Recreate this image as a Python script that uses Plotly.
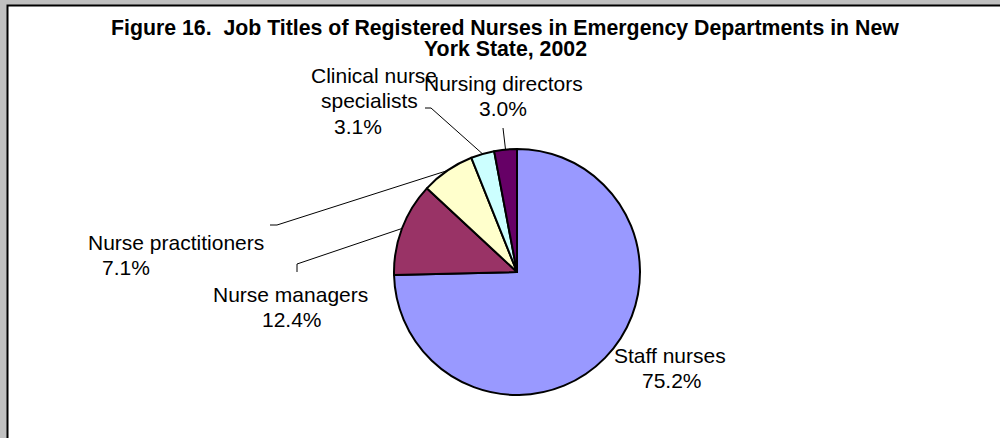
import math
import plotly.graph_objects as go

# ---- data ----
categories = ["Staff nurses", "Nurse managers", "Nurse practitioners",
              "Clinical nurse specialists", "Nursing directors"]
values = [75.2, 12.4, 7.1, 3.1, 3.0]
percent_texts = ["75.2%", "12.4%", "7.1%", "3.1%", "3.0%"]
name_lines = [["Staff nurses"], ["Nurse managers"], ["Nurse practitioners"],
              ["Clinical nurse", "specialists"], ["Nursing directors"]]
colors = ["#9999FF", "#993366", "#FFFFCC", "#CCFFFF", "#660066"]
title_lines = ["Figure 16.  Job Titles of Registered Nurses in Emergency Departments in New",
               "York State, 2002"]

W, H = 1000, 438
def px(x):
    return x / W
def py(y):
    return 1 - y / H

# pie geometry (pixels)
CX, CY, R = 517, 272, 123

# label layout: first line center y, and the x center of each line (pixels)
LINE_H = 25.5
label_top = [355, 294, 242, 75, 83]
label_xc = [[670, 672], [290, 292], [176, 126], [374, 369, 358], [503, 503]]
leader_end = [None, (297, 272), (270, 225), (425, 108), (503, 128)]
leader_elbow = [None, (297, 264), (277, 225), (431, 108), None]

fig = go.Figure()
fig.add_trace(go.Pie(
    labels=categories, values=values, sort=False, direction="clockwise",
    rotation=0, textinfo="none", hoverinfo="label+percent",
    marker=dict(colors=colors, line=dict(color="black", width=2)),
    domain=dict(x=[px(CX - R), px(CX + R)], y=[py(CY + R), py(CY - R)]),
    showlegend=False,
))

shapes = [dict(type="rect", xref="paper", yref="paper", x0=px(7.5), y0=-0.05,
               x1=1.05, y1=py(5.5), fillcolor="white",
               line=dict(color="black", width=2), layer="below")]

total = sum(values)
cum = 0.0
for i, v in enumerate(values):
    mid = (cum + v / 2) / total * 2 * math.pi
    cum += v
    if leader_end[i] is None:
        continue
    sx = CX + R * math.sin(mid)
    sy = CY - R * math.cos(mid)
    pts = [(sx, sy)]
    if leader_elbow[i] is not None:
        pts.append(leader_elbow[i])
    pts.append(leader_end[i])
    path = "M " + " L ".join(f"{px(x):.5f},{py(y):.5f}" for x, y in pts)
    shapes.append(dict(type="path", xref="paper", yref="paper", path=path,
                       line=dict(color="black", width=1)))

font = dict(family="Liberation Sans, Arial", size=21, color="black")
annotations = []
for i in range(len(categories)):
    lines = name_lines[i] + [percent_texts[i]]
    for j, (t, lx) in enumerate(zip(lines, label_xc[i])):
        annotations.append(dict(x=px(lx), y=py(label_top[i] + j * LINE_H),
                                xref="paper", yref="paper", text=t,
                                showarrow=False, xanchor="center",
                                yanchor="middle", font=font))

for j, t in enumerate(title_lines):
    annotations.append(dict(x=px(505), y=py(28 + j * 20.5), xref="paper",
                            yref="paper", text=f"<b>{t}</b>", showarrow=False,
                            xanchor="center", yanchor="middle",
                            font=dict(family="Liberation Sans, Arial", size=21.3,
                                      color="black")))

fig.update_layout(
    width=W, height=H, margin=dict(l=0, r=0, t=0, b=0),
    paper_bgcolor="#C0C0C0",
    shapes=shapes, annotations=annotations,
)

fig.write_html("out.html", config={"displayModeBar": False},
               post_script="document.body.style.margin='0';document.body.style.overflow='hidden';")
